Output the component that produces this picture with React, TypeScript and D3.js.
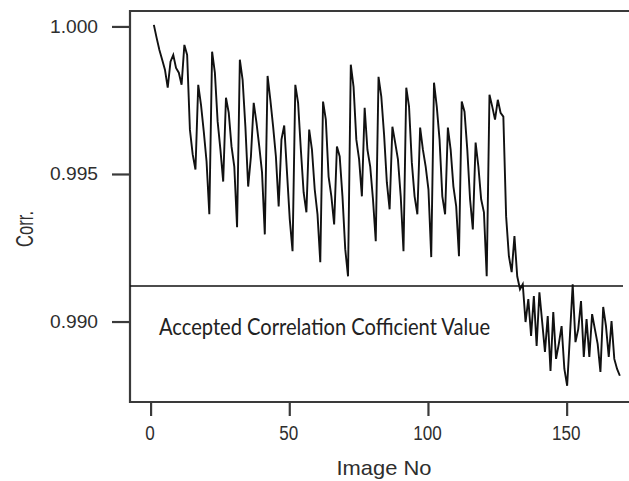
import React from 'react';
import * as d3 from 'd3';

// correlation value for each image, image 1 .. 169
const corrValues = [
    1.00007, 0.99963, 0.99922, 0.99889, 0.99855, 0.99794, 0.99882, 0.99905, 0.99861, 0.99845,
    0.99804, 0.99939, 0.99905, 0.99652, 0.99568, 0.99517, 0.99804, 0.99736, 0.99645, 0.99544,
    0.99365, 0.99916, 0.99845, 0.99679, 0.99584, 0.99476, 0.99760, 0.99709, 0.99595, 0.99527,
    0.99321, 0.99889, 0.99821, 0.99662, 0.99459, 0.99561, 0.99743, 0.99676, 0.99595, 0.99507,
    0.99297, 0.99834, 0.99753, 0.99662, 0.99561, 0.99392, 0.99618, 0.99666, 0.99507, 0.99348,
    0.99240, 0.99804, 0.99743, 0.99584, 0.99439, 0.99372, 0.99652, 0.99584, 0.99449, 0.99365,
    0.99203, 0.99747, 0.99686, 0.99493, 0.99426, 0.99331, 0.99595, 0.99561, 0.99426, 0.99247,
    0.99155, 0.99872, 0.99797, 0.99618, 0.99551, 0.99426, 0.99726, 0.99584, 0.99527, 0.99416,
    0.99274, 0.99831, 0.99764, 0.99635, 0.99473, 0.99382, 0.99662, 0.99608, 0.99551, 0.99426,
    0.99240, 0.99794, 0.99730, 0.99541, 0.99426, 0.99365, 0.99659, 0.99584, 0.99527, 0.99449,
    0.99220, 0.99811, 0.99730, 0.99618, 0.99426, 0.99365, 0.99659, 0.99584, 0.99459, 0.99392,
    0.99223, 0.99747, 0.99713, 0.99584, 0.99416, 0.99314, 0.99608, 0.99527, 0.99416, 0.99372,
    0.99155, 0.99770, 0.99730, 0.99686, 0.99753, 0.99709, 0.99696, 0.99358, 0.99223, 0.99169,
    0.99291, 0.99155, 0.99111, 0.99128, 0.99000, 0.99078, 0.98953, 0.99088, 0.98919, 0.99101,
    0.99000, 0.98899, 0.99020, 0.98834, 0.99034, 0.98875, 0.98926, 0.98986, 0.98841, 0.98784,
    0.98953, 0.99128, 0.98932, 0.98976, 0.99071, 0.98882, 0.99010, 0.98882, 0.99027, 0.98976,
    0.98926, 0.98831, 0.99051, 0.98986, 0.98882, 0.99003, 0.98875, 0.98841, 0.98818
];

const acceptedValue = 0.99122;
const acceptedLabel = 'Accepted Correlation Cofficient Value';

const xTicks = [0, 50, 100, 150];
const xTickLabels = ['0', '50', '100', '150'];
const yTicks = [0.990, 0.995, 1.000];
const yTickLabels = ['0.990', '0.995', '1.000'];

export default function App() {

    const container = React.useRef(null);

    const width = 629, height = 481;
    const plot = { left: 130, right: 629, top: 11, bottom: 402 };

    React.useEffect(() => {
        if (!container.current) return;

        const svg = d3.select(container.current);
        svg.selectAll('*').remove();

        const xScale = d3.scaleLinear().domain([-7.6, 172.3]).range([plot.left, plot.right]);
        const yScale = d3.scaleLinear().domain([0.98729, 1.00054]).range([plot.bottom, plot.top]);

        const frameColor = '#3a3a3a';
        const font = "'Liberation Sans', Arial, sans-serif";

        // frame (top, left, bottom)
        svg.append('path')
            .attr('d', `M${plot.right},${plot.top}H${plot.left}V${plot.bottom}H${plot.right}`)
            .attr('fill', 'none')
            .attr('stroke', frameColor)
            .attr('stroke-width', 2.2);

        // y ticks
        yTicks.forEach((t, i) => {
            const y = yScale(t);
            svg.append('line')
                .attr('x1', 112).attr('x2', plot.left)
                .attr('y1', y).attr('y2', y)
                .attr('stroke', frameColor).attr('stroke-width', 2.2);
            svg.append('text')
                .attr('x', 98).attr('y', y + 6)
                .attr('text-anchor', 'end')
                .attr('font-family', font).attr('font-size', 19)
                .attr('fill', '#2e2e2e')
                .attr('textLength', 48).attr('lengthAdjust', 'spacingAndGlyphs')
                .text(yTickLabels[i]);
        });

        // x ticks
        xTicks.forEach((t, i) => {
            const x = xScale(t);
            svg.append('line')
                .attr('x1', x).attr('x2', x)
                .attr('y1', plot.bottom).attr('y2', plot.bottom + 14)
                .attr('stroke', frameColor).attr('stroke-width', 2.2);
            const label = xTickLabels[i];
            svg.append('text')
                .attr('x', x - 1).attr('y', 440)
                .attr('text-anchor', 'middle')
                .attr('font-family', font).attr('font-size', 20)
                .attr('fill', '#2e2e2e')
                .attr('textLength', label.length * 9.5).attr('lengthAdjust', 'spacingAndGlyphs')
                .text(label);
        });

        // axis titles
        svg.append('text')
            .attr('x', 384).attr('y', 475)
            .attr('text-anchor', 'middle')
            .attr('font-family', font).attr('font-size', 21)
            .attr('fill', '#2e2e2e')
            .attr('textLength', 95).attr('lengthAdjust', 'spacingAndGlyphs')
            .text('Image No');

        svg.append('text')
            .attr('transform', 'translate(33,229) rotate(-90)')
            .attr('text-anchor', 'middle')
            .attr('font-family', font).attr('font-size', 23)
            .attr('fill', '#2e2e2e')
            .attr('textLength', 36).attr('lengthAdjust', 'spacingAndGlyphs')
            .text('Corr.');

        // accepted value line
        svg.append('line')
            .attr('x1', plot.left).attr('x2', 623)
            .attr('y1', yScale(acceptedValue)).attr('y2', yScale(acceptedValue))
            .attr('stroke', '#111').attr('stroke-width', 1.6);

        svg.append('text')
            .attr('x', 159).attr('y', 335)
            .attr('font-family', "Lato, 'Open Sans', sans-serif").attr('font-size', 23)
            .attr('fill', '#222')
            .attr('textLength', 331).attr('lengthAdjust', 'spacingAndGlyphs')
            .text(acceptedLabel);

        // correlation series
        const line = d3.line<number>()
            .x((d, i) => xScale(i + 1))
            .y(d => yScale(d));

        svg.append('path')
            .datum(corrValues)
            .attr('d', line)
            .attr('fill', 'none')
            .attr('stroke', '#111')
            .attr('stroke-width', 1.9)
            .attr('stroke-linejoin', 'miter');

    }, []);

    return <div style={{ position: 'absolute', left: 0, top: 0 }}>
        <svg width={width} height={height} style={{ display: 'block', background: '#fff' }}>
            <g ref={container} />
        </svg>
    </div>
}
